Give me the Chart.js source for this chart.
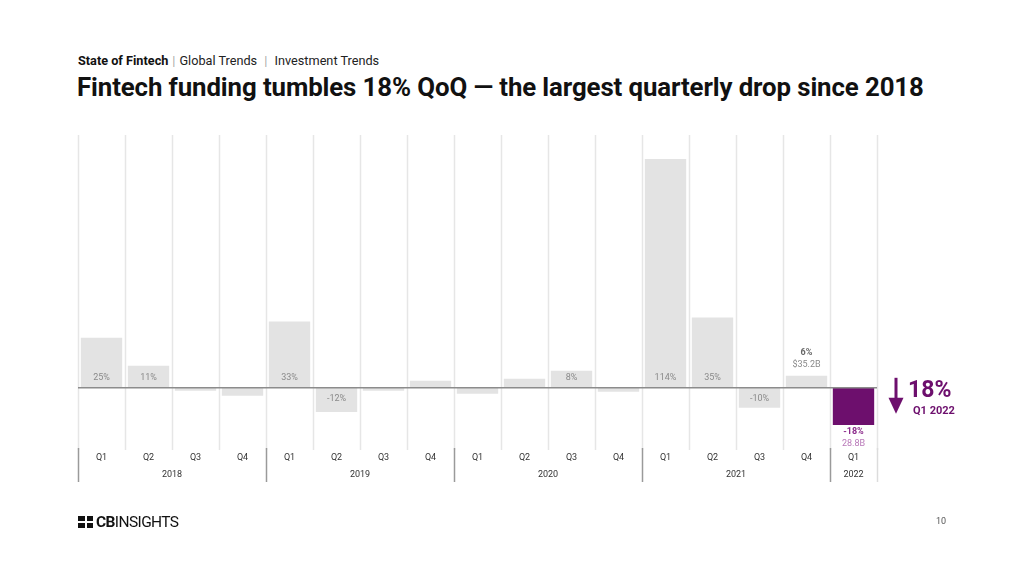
<!DOCTYPE html>
<html>
<head>
<meta charset="utf-8">
<script src="https://cdn.jsdelivr.net/npm/chart.js@4.4.1/dist/chart.umd.min.js"></script>
<style>
  html, body { margin: 0; padding: 0; background: #fff; }
  body { width: 1024px; height: 576px; position: relative; overflow: hidden; font-family: Roboto, "Noto Sans", sans-serif; }
  #wrap { position: absolute; left: 0; top: 0; width: 1024px; height: 576px; }
  .crumb { position: absolute; left: 78px; top: 53px; font-size: 12.7px; color: #222; white-space: nowrap; }
  .crumb b { font-weight: 700; color: #111; }
  .crumb .sep { color: #aaa; margin: 0 4px; }
  .title { position: absolute; left: 77px; top: 72px; font-size: 25.8px; font-weight: 700; color: #111; white-space: nowrap; letter-spacing: -0.1px; }
  .logo { position: absolute; left: 78px; top: 513px; font-size: 15.5px; color: #111; white-space: nowrap; letter-spacing: -0.6px; }
  .logo .icon { display: inline-block; width: 15px; height: 12px; background: #111; vertical-align: -1px; margin-right: 3px; position: relative; }
  .logo .icon:before { content: ""; position: absolute; left: 7px; top: 0; width: 1.5px; height: 12px; background: #fff; }
  .logo .icon:after { content: ""; position: absolute; left: 0; top: 5px; width: 15px; height: 1.5px; background: #fff; }
  .page { position: absolute; left: 936px; top: 516px; font-size: 9px; color: #555; }
</style>
</head>
<body>
<div class="crumb"><b>State of Fintech</b><span class="sep">|</span>Global Trends <span class="sep">|</span> Investment Trends</div>
<div class="title">Fintech funding tumbles 18% QoQ — the largest quarterly drop since 2018</div>
<div id="wrap"><canvas id="chart" width="1024" height="576"></canvas></div>
<div class="logo"><span class="icon"></span><b>CB</b>INSIGHTS</div>
<div class="page">10</div>
<script>
// Datos: crecimiento trimestral (QoQ, %)
const quarters = ['Q1', 'Q2', 'Q3', 'Q4', 'Q1', 'Q2', 'Q3', 'Q4', 'Q1', 'Q2', 'Q3', 'Q4', 'Q1', 'Q2', 'Q3', 'Q4', 'Q1'];
const years = ['2018', '2019', '2020', '2021', '2022'];
const qoqGrowth = [25, 11, -1.5, -4, 33, -12, -1.5, 3.5, -3, 4.5, 8.5, -2, 114, 35, -10, 6, -18.5];
// Etiquetas dentro de las barras (null = sin etiqueta)
const barLabels = ['25%', '11%', null, null, '33%', '-12%', null, null, null, null, '8%', null, '114%', '35%', '-10%', null, null];
const q4Label = ['6%', '$35.2B'];
const latestLabel = ['-18%', '28.8B'];

const grey = '#e3e3e3';
const purple = '#6d0f6d';
const barColors = qoqGrowth.map((v, i) => i === qoqGrowth.length - 1 ? purple : grey);

const overlay = {
  id: 'overlay',
  beforeDatasetsDraw(chart) {
    const { ctx, chartArea, scales: { x } } = chart;
    const step = x.width / quarters.length;
    ctx.save();
    // lineas verticales entre columnas
    ctx.strokeStyle = '#e6e6e6';
    ctx.lineWidth = 1.5;
    for (let i = 0; i <= quarters.length; i++) {
      const px = Math.round(x.left + i * step) + 0.5;
      ctx.beginPath();
      ctx.moveTo(px, chartArea.top);
      ctx.lineTo(px, chartArea.bottom);
      ctx.stroke();
    }
    ctx.restore();
  },
  afterDatasetsDraw(chart) {
    const { ctx, chartArea, scales: { x, y } } = chart;
    const step = x.width / quarters.length;
    const zero = y.getPixelForValue(0);
    ctx.save();
    // linea de cero
    ctx.strokeStyle = '#8c8c8c';
    ctx.lineWidth = 1.5;
    ctx.beginPath();
    ctx.moveTo(x.left, zero);
    ctx.lineTo(x.right, zero);
    ctx.stroke();

    ctx.textAlign = 'center';
    ctx.textBaseline = 'middle';
    ctx.font = '9px Roboto';
    ctx.fillStyle = '#8a8a8a';
    barLabels.forEach((lab, i) => {
      if (!lab) return;
      const cx = x.getPixelForValue(i);
      ctx.fillText(lab, cx, qoqGrowth[i] >= 0 ? zero - 10 : zero + 11);
    });

    // etiqueta Q4 2021
    const i4 = 15;
    const top4 = y.getPixelForValue(qoqGrowth[i4]);
    ctx.font = 'bold 9px Roboto';
    ctx.fillStyle = '#666';
    ctx.fillText(q4Label[0], x.getPixelForValue(i4), top4 - 23);
    ctx.font = '9px Roboto';
    ctx.fillStyle = '#8a8a8a';
    ctx.fillText(q4Label[1], x.getPixelForValue(i4), top4 - 11);

    // etiqueta Q1 2022
    const iL = qoqGrowth.length - 1;
    const botL = y.getPixelForValue(qoqGrowth[iL]);
    ctx.font = 'bold 9px Roboto';
    ctx.fillStyle = '#8b2a8b';
    ctx.fillText(latestLabel[0], x.getPixelForValue(iL), botL + 7);
    ctx.font = '9px Roboto';
    ctx.fillStyle = '#b877b8';
    ctx.fillText(latestLabel[1], x.getPixelForValue(iL), botL + 19);

    // eje inferior: trimestres y años
    const base = chartArea.bottom;
    ctx.fillStyle = '#333';
    quarters.forEach((q, i) => ctx.fillText(q, x.getPixelForValue(i), base + 8));
    years.forEach((yr, g) => {
      const first = g * 4;
      const last = Math.min(first + 3, quarters.length - 1);
      const cx = (x.getPixelForValue(first) + x.getPixelForValue(last)) / 2;
      ctx.fillText(yr, cx, base + 25);
      const px = Math.round(x.left + first * step) + 0.5;
      ctx.strokeStyle = '#9a9a9a';
      ctx.lineWidth = 1.5;
      ctx.beginPath();
      ctx.moveTo(px, base - 2);
      ctx.lineTo(px, base + 32);
      ctx.stroke();
    });
    const endX = Math.round(x.right) + 0.5;
    ctx.strokeStyle = '#dcdcdc';
    ctx.beginPath();
    ctx.moveTo(endX, base - 2);
    ctx.lineTo(endX, base + 32);
    ctx.stroke();

    // flecha y 18%
    const ax = x.right + 19;
    ctx.strokeStyle = purple;
    ctx.fillStyle = purple;
    ctx.lineWidth = 3;
    ctx.beginPath();
    ctx.moveTo(ax, zero - 10);
    ctx.lineTo(ax, zero + 12);
    ctx.stroke();
    ctx.beginPath();
    ctx.moveTo(ax - 7.5, zero + 10);
    ctx.lineTo(ax + 7.5, zero + 10);
    ctx.lineTo(ax, zero + 26);
    ctx.closePath();
    ctx.fill();
    ctx.textAlign = 'left';
    ctx.textBaseline = 'alphabetic';
    ctx.font = 'bold 23px Roboto';
    ctx.fillText('18%', ax + 12, zero + 9);
    ctx.font = 'bold 11px Roboto';
    ctx.fillText('Q1 2022', ax + 17, zero + 26);
    ctx.restore();
  }
};

const ctx = document.getElementById('chart').getContext('2d');
new Chart(ctx, {
  type: 'bar',
  data: {
    labels: quarters,
    datasets: [{
      data: qoqGrowth,
      backgroundColor: barColors,
      borderWidth: 0,
      barPercentage: 0.88,
      categoryPercentage: 1
    }]
  },
  options: {
    responsive: false,
    animation: false,
    layout: { padding: { left: 78, right: 147, top: 135, bottom: 126 } },
    plugins: { legend: { display: false }, tooltip: { enabled: false } },
    scales: {
      x: { display: false },
      y: { display: false, min: -31, max: 126 }
    }
  },
  plugins: [overlay]
});
</script>
</body>
</html>
